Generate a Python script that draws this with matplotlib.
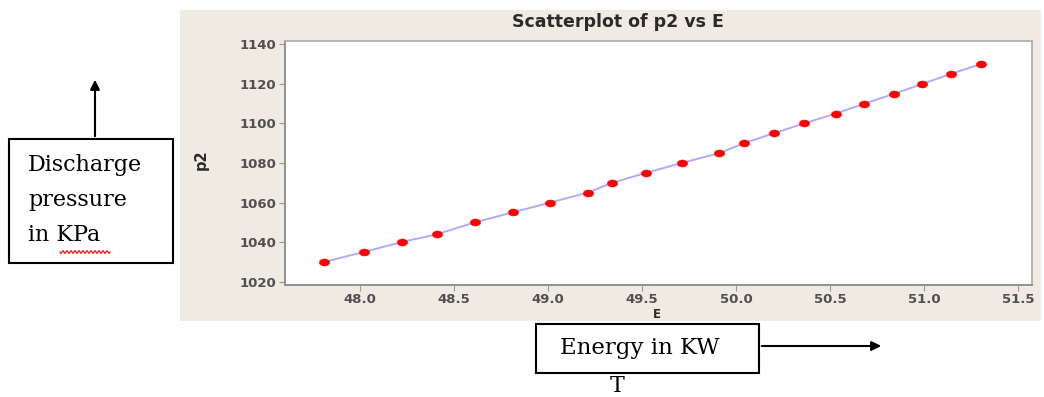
import matplotlib
matplotlib.use("Agg")
import matplotlib.pyplot as plt
from matplotlib.patches import Rectangle, FancyArrowPatch
import numpy as np

E = [47.81, 48.02, 48.22, 48.41, 48.61, 48.81, 49.01, 49.21, 49.34, 49.52, 49.71,
     49.91, 50.04, 50.20, 50.36, 50.53, 50.68, 50.84, 50.99, 51.14, 51.30]
p2 = [1030, 1035, 1040, 1044, 1050, 1055, 1060, 1065, 1070, 1075, 1080,
      1085, 1090, 1095, 1100, 1105, 1110, 1115, 1120, 1125, 1130]
x_ticks = [48.0, 48.5, 49.0, 49.5, 50.0, 50.5, 51.0, 51.5]
y_ticks = [1020, 1040, 1060, 1080, 1100, 1120, 1140]

W, H = 1044, 397
fig = plt.figure(figsize=(W / 100, H / 100), dpi=100)
fig.patch.set_facecolor("white")

def fx(px):
    return np.asarray(px) / W

def fy(py):
    return 1 - np.asarray(py) / H

# gray panel behind Minitab chart
panel = Rectangle((fx(180), fy(321)), fx(1041) - fx(180), fy(10) - fy(321),
                  transform=fig.transFigure, facecolor="#EFEBE2", edgecolor="none", zorder=-5)
fig.patches.append(panel)

# slightly flattened round marker
th = np.linspace(0, 2 * np.pi, 40)
ellipse = np.column_stack([np.cos(th), 0.68 * np.sin(th)])

ax = fig.add_axes([fx(285), fy(285), fx(1032) - fx(285), fy(41) - fy(285)])
ax.set_zorder(2)
ax.set_facecolor("white")
ax.plot(E, p2, color="#ADADF7", lw=1.4, zorder=2)
ax.plot(E, p2, linestyle="none", marker=ellipse, color="#FF0000", ms=7.5,
        mec="#FF0000", mew=0.3, zorder=3)
ax.set_xlim(47.60, 51.573)
ax.set_ylim(1018.3, 1141.7)
ax.set_xticks(x_ticks)
ax.set_xticklabels([f"{v:.1f}" for v in x_ticks])
ax.set_yticks(y_ticks)
ax.set_yticklabels([str(v) for v in y_ticks])
for lab in ax.get_xticklabels() + ax.get_yticklabels():
    lab.set_fontweight("bold")
    lab.set_fontsize(9.5)
    lab.set_color("#505050")
ax.tick_params(direction="out", length=4, color="#999999", pad=2)
for s in ["left", "bottom"]:
    ax.spines[s].set_color("#8a8a8a")
    ax.spines[s].set_linewidth(1.3)
for s in ["top", "right"]:
    ax.spines[s].set_color("#b0b0b0")
    ax.spines[s].set_linewidth(1.3)

fig.text(fx(618), fy(22), "Scatterplot of p2 vs E", ha="center", va="center",
         fontsize=12.5, fontweight="bold", color="#2a2a2a", zorder=3)
fig.text(fx(201), fy(160), "p2", ha="center", va="center", rotation=90,
         fontsize=10.5, fontweight="bold", color="#2a2a2a", zorder=3)
fig.text(fx(657), fy(314), "E", ha="center", va="center",
         fontsize=8.5, fontweight="bold", color="#2a2a2a", zorder=3)

# left annotation box
fig.patches.append(Rectangle((fx(9), fy(263)), fx(173) - fx(9), fy(139) - fy(263),
                             transform=fig.transFigure, facecolor="white",
                             edgecolor="black", lw=1.5, zorder=5))
fig.patches.append(FancyArrowPatch((fx(95), fy(139)), (fx(95), fy(77)),
                                   transform=fig.transFigure, arrowstyle="-|>",
                                   mutation_scale=14, color="black", lw=1.5, zorder=5))
serif = ["DejaVu Serif"]
for txt, yy in [("Discharge", 165), ("pressure", 200), ("in KPa", 235)]:
    fig.text(fx(28), fy(yy), txt, ha="left", va="center", fontsize=16,
             family=serif, color="black", zorder=6)
# red wavy underline under "KPa"
wx = np.linspace(60, 110, 60)
wy = 252 + 1.5 * np.sin((wx - 60) / 2.0 * np.pi)
fig.add_artist(plt.Line2D(fx(wx), fy(wy), transform=fig.transFigure, color="red", lw=0.8, zorder=6))

# bottom annotation box
fig.patches.append(Rectangle((fx(536), fy(373)), fx(759) - fx(536), fy(324) - fy(373),
                             transform=fig.transFigure, facecolor="white",
                             edgecolor="black", lw=1.5, zorder=5))
fig.text(fx(640), fy(348), "Energy in KW", ha="center", va="center", fontsize=16.5,
         family=serif, color="black", zorder=6)
fig.patches.append(FancyArrowPatch((fx(759), fy(346)), (fx(884), fy(346)),
                                   transform=fig.transFigure, arrowstyle="-|>",
                                   mutation_scale=14, color="black", lw=1.5, zorder=5))
fig.text(fx(617), fy(386), "T", ha="center", va="center", fontsize=16,
         family=serif, color="black", zorder=6)

fig.savefig("out.png", dpi=100)
